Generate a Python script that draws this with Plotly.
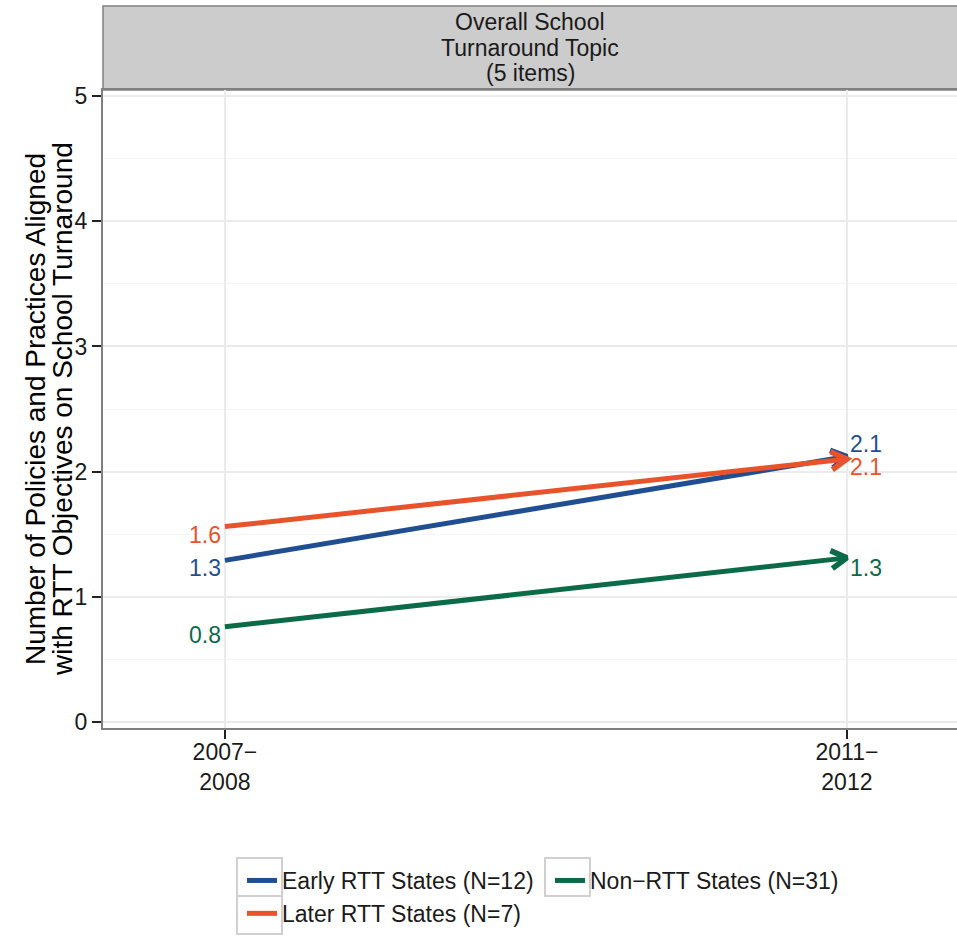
import math
import plotly.graph_objects as go

# ---------------- data ----------------
periods = ["2007−2008", "2011−2012"]
period_ticks = ["2007−<br>2008", "2011−<br>2012"]
series_names = ["Early RTT States (N=12)", "Non−RTT States (N=31)", "Later RTT States (N=7)"]
early_vals = [1.29, 2.12]
nonrtt_vals = [0.76, 1.31]
later_vals = [1.56, 2.10]
y_ticks = [0, 1, 2, 3, 4, 5]
strip_lines = ["Overall School", "Turnaround Topic", "(5 items)"]
y_title_lines = ["Number of Policies and Practices Aligned",
                 "with RTT Objectives on School Turnaround"]

# ---------------- styles ----------------
colors = ["#1F4E93", "#0B6B48", "#E9532B"]
end_label_shift = [13, -10, -8]
start_label_shift = [-8, -8, -8]
FONT = "Liberation Sans, Arial, sans-serif"
W, H = 957, 937
ML, MR, MT, MB = 103, 0, 90, 209
PW, PH = W - ML - MR, H - MT - MB
XR = [-0.196, 1.177]
YR = [-0.05, 5.05]


def px2paper_x(px):
    return (px - ML) / PW


def px2paper_y(py):
    return (MT + PH - py) / PH


xs = list(range(len(periods)))
series_vals = [early_vals, nonrtt_vals, later_vals]

fig = go.Figure()

px_x = PW / (XR[1] - XR[0])
px_y = PH / (YR[1] - YR[0])
ARM = 18
ANG = math.radians(30)

for name, vals, col, s_shift, e_shift in zip(series_names, series_vals, colors,
                                             start_label_shift, end_label_shift):
    fig.add_trace(go.Scatter(
        x=xs, y=vals, mode="lines", name=name,
        line=dict(color=col, width=5), legendgroup=name,
    ))
    # open arrow head (chevron) computed from the segment direction in pixel space
    dx = (xs[1] - xs[0]) * px_x
    dy = (vals[1] - vals[0]) * px_y
    L = math.hypot(dx, dy)
    ux, uy = dx / L, dy / L
    pts_x, pts_y = [], []
    for sgn in (1, -1):
        c, s = math.cos(sgn * ANG), math.sin(sgn * ANG)
        rx, ry = ux * c - uy * s, ux * s + uy * c
        pts_x.append(xs[1] - ARM * rx / px_x)
        pts_y.append(vals[1] - ARM * ry / px_y)
    fig.add_trace(go.Scatter(
        x=[pts_x[0], xs[1], pts_x[1]], y=[pts_y[0], vals[1], pts_y[1]],
        mode="lines", line=dict(color=col, width=5.5), showlegend=False,
        legendgroup=name, hoverinfo="skip",
    ))
    fig.add_annotation(x=xs[0], y=vals[0], text=f"{vals[0]:.1f}", showarrow=False,
                       xanchor="right", yanchor="middle", xshift=-2, yshift=s_shift,
                       font=dict(family=FONT, size=23, color=col))
    fig.add_annotation(x=xs[1], y=vals[1], text=f"{vals[1]:.1f}", showarrow=False,
                       xanchor="left", yanchor="middle", xshift=1, yshift=e_shift,
                       font=dict(family=FONT, size=23, color=col))

# strip header
fig.add_shape(type="rect", xref="paper", yref="paper", x0=0, x1=1.01,
              y0=1, y1=px2paper_y(6),
              fillcolor="#CCCCCC", line=dict(color="#808080", width=1.5), layer="below")
for i, t in enumerate(strip_lines):
    fig.add_annotation(xref="paper", yref="paper", x=0.5, y=px2paper_y(22 + 25.5 * i),
                       text=t, showarrow=False, xanchor="center", yanchor="middle",
                       font=dict(family=FONT, size=23, color="#1a1a1a"))

# y title (two lines, rotated)
for i, t in enumerate(y_title_lines):
    fig.add_annotation(xref="paper", yref="paper", x=px2paper_x(35 + 27 * i), y=0.5,
                       text=t, showarrow=False, textangle=-90,
                       xanchor="center", yanchor="middle",
                       font=dict(family=FONT, size=28, color="#000000"))

# legend key boxes (ggplot-style grey frames)
for (bx, by) in [(237, 858), (545, 858), (237, 896)]:
    fig.add_shape(type="rect", xref="paper", yref="paper",
                  x0=px2paper_x(bx), x1=px2paper_x(bx + 45),
                  y0=px2paper_y(by), y1=px2paper_y(by + 38),
                  line=dict(color="#D0D0D0", width=2), fillcolor="rgba(0,0,0,0)")

fig.update_layout(
    width=W, height=H,
    margin=dict(l=ML, r=MR, t=MT, b=MB, autoexpand=False),
    paper_bgcolor="white", plot_bgcolor="white",
    font=dict(family=FONT, size=23, color="#1a1a1a"),
    showlegend=True,
    legend=dict(orientation="h", x=px2paper_x(242), xanchor="left",
                y=px2paper_y(859), yanchor="top",
                entrywidth=263, entrywidthmode="pixels",
                font=dict(family=FONT, size=23, color="#1a1a1a"),
                bgcolor="rgba(0,0,0,0)", traceorder="normal"),
    xaxis=dict(range=XR, tickvals=xs, ticktext=period_ticks,
               showgrid=True, gridcolor="#EBEBEB", gridwidth=1.5, zeroline=False,
               showline=True, linecolor="#808080", linewidth=2, mirror=True,
               ticks="outside", ticklen=9, tickwidth=2, tickcolor="#222222",
               ticklabelstandoff=-7,
               tickfont=dict(family=FONT, size=23, color="#1a1a1a")),
    yaxis=dict(range=YR, tickvals=y_ticks,
               showgrid=True, gridcolor="#EBEBEB", gridwidth=1.5, zeroline=False,
               minor=dict(dtick=0.5, showgrid=True, gridcolor="#F5F5F5", gridwidth=1),
               showline=True, linecolor="#808080", linewidth=2, mirror=True,
               ticks="outside", ticklen=9, tickwidth=2, tickcolor="#222222",
               tickfont=dict(family=FONT, size=23, color="#1a1a1a")),
)

fig.write_html("out.html", config={"displayModeBar": False},
               post_script="document.body.style.margin='0';document.body.style.overflow='hidden';")
